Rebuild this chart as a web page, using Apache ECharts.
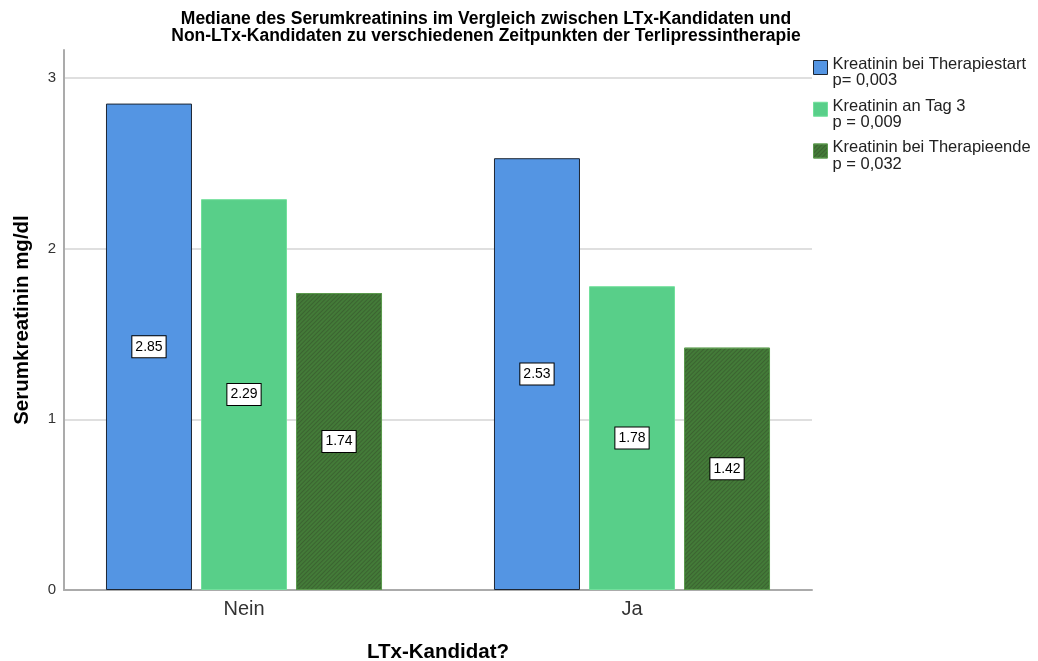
<!DOCTYPE html>
<html>
<head>
<meta charset="utf-8">
<script src="https://cdn.jsdelivr.net/npm/echarts@6/dist/echarts.min.js"></script>
<style>
  html, body { margin: 0; padding: 0; background: #fff; }
  #chart { width: 1038px; height: 661px; }
</style>
</head>
<body>
<div id="chart"></div>
<script>
// Median serum creatinine by LTx candidacy, three points in time
const categories = ['Nein', 'Ja'];
const seriesNames = [
  'Kreatinin bei Therapiestart',
  'Kreatinin an Tag 3',
  'Kreatinin bei Therapieende'
];
const pValues = ['p= 0,003', 'p = 0,009', 'p = 0,032'];
const startValues = [2.85, 2.53];
const day3Values = [2.29, 1.78];
const endValues = [1.74, 1.42];
const yTicks = [0, 1, 2, 3];

const seriesValues = [startValues, day3Values, endValues];
const fills = ['#5495e3', '#58cf89', '#437b38'];
const borders = ['#1d2633', '#72e09c', '#5c9a4e'];
const FONT = '"Liberation Sans", Arial, sans-serif';

// diagonal hatching used on the last series
const hatch = {
  symbol: 'rect',
  symbolSize: 1,
  dashArrayX: [1, 0],
  dashArrayY: [1, 2],
  rotation: -Math.PI / 4,
  color: 'rgba(45,55,35,0.35)'
};

const chart = echarts.init(document.getElementById('chart'), null, { renderer: 'canvas' });

const series = seriesValues.map((vals, i) => {
  const itemStyle = {
    color: fills[i],
    borderColor: borders[i],
    borderWidth: 1
  };
  if (i === 2) itemStyle.decal = hatch;
  return {
    name: seriesNames[i],
    type: 'bar',
    xAxisIndex: 1,
    yAxisIndex: 1,
    data: vals,
    barWidth: 86,
    barGap: '10.5%',
    itemStyle: itemStyle,
    label: {
      show: true,
      position: 'inside',
      formatter: p => p.value.toFixed(2),
      color: '#000',
      fontFamily: FONT,
      fontSize: 14,
      lineHeight: 15,
      backgroundColor: '#fff',
      borderColor: '#000',
      borderWidth: 1,
      padding: [3, 3, 3, 3]
    }
  };
});

chart.setOption({
  backgroundColor: '#fff',
  animation: false,
  title: {
    text: 'Mediane des Serumkreatinins im Vergleich zwischen LTx-Kandidaten und\nNon-LTx-Kandidaten zu verschiedenen Zeitpunkten der Terlipressintherapie',
    left: 481,
    textAlign: 'center',
    top: 6,
    textStyle: {
      fontFamily: '"Liberation Sans Narrow", "Arial Narrow", ' + FONT,
      fontWeight: 'bold',
      fontSize: 17.5,
      lineHeight: 17,
      color: '#000'
    }
  },
  legend: {
    orient: 'vertical',
    left: 808,
    top: 45.5,
    icon: 'rect',
    itemWidth: 14,
    itemHeight: 14,
    itemGap: 3,
    data: seriesNames,
    // a short spacer line keeps the series name level with its swatch
    formatter: name => '{s| }\n{t|' + name + '}\n{t|' + pValues[seriesNames.indexOf(name)] + '}',
    textStyle: {
      fontFamily: FONT,
      color: '#222',
      rich: {
        s: { fontSize: 1, lineHeight: 10 },
        t: { fontFamily: FONT, fontSize: 16.5, lineHeight: 16.5, color: '#222' }
      }
    },
    itemStyle: { borderWidth: 1 }
  },
  grid: [
    { left: 64, right: 226, top: 50, bottom: 71, outerBoundsMode: 'none' },
    { left: 50, right: 212, top: 50, bottom: 71, outerBoundsMode: 'none' }
  ],
  xAxis: [
    {
      type: 'category',
      gridIndex: 0,
      data: categories,
      axisLine: { lineStyle: { color: '#ababab', width: 2 } },
      axisTick: { show: false },
      axisLabel: { show: false },
      name: 'LTx-Kandidat?',
      nameLocation: 'middle',
      nameGap: 52,
      nameTextStyle: { fontFamily: FONT, fontWeight: 'bold', fontSize: 20.5, color: '#000' }
    },
    {
      type: 'category',
      gridIndex: 1,
      data: categories,
      axisLine: { show: false },
      axisTick: { show: false },
      axisLabel: { fontFamily: FONT, fontSize: 20, color: '#333', margin: 9 }
    }
  ],
  yAxis: [
    {
      type: 'value',
      gridIndex: 0,
      min: yTicks[0],
      max: 3.164,
      interval: 1,
      axisLine: { show: true, lineStyle: { color: '#ababab', width: 2 } },
      axisTick: { show: false },
      axisLabel: {
        fontFamily: FONT, fontSize: 15, color: '#333', margin: 8,
        showMaxLabel: false,
        formatter: v => (yTicks.includes(v) ? String(v) : '')
      },
      splitLine: { show: true, showMaxLine: false, lineStyle: { color: '#d4d4d4', width: 1.5 } },
      name: 'Serumkreatinin mg/dl',
      nameLocation: 'middle',
      nameGap: 31,
      nameTextStyle: { fontFamily: FONT, fontWeight: 'bold', fontSize: 20.5, color: '#000' }
    },
    {
      type: 'value',
      gridIndex: 1,
      min: yTicks[0],
      max: 3.164,
      show: false,
      splitLine: { show: false }
    }
  ],
  series: series
});
</script>
</body>
</html>
